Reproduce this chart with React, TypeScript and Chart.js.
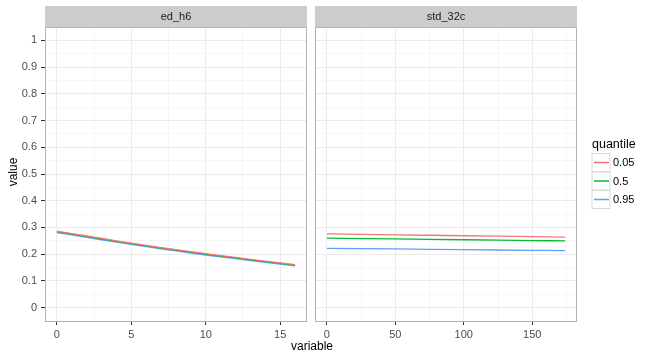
import React, { useEffect, useRef } from "react";
import { Chart, registerables } from "chart.js";

Chart.register(...registerables);

// ---- data ----
const seriesNames = ["0.05", "0.5", "0.95"];
const seriesColors = ["#F8766D", "#00BA38", "#619CFF"];

const panelNames = ["ed_h6", "std_32c"];

// panel 1: ed_h6
const edX = [0, 2, 4, 6, 8, 10, 12, 14, 16];
const edQ05 = [0.286, 0.268, 0.25, 0.233, 0.217, 0.202, 0.188, 0.174, 0.161];
const edQ50 = [0.284, 0.266, 0.248, 0.231, 0.215, 0.2, 0.186, 0.172, 0.159];
const edQ95 = [0.281, 0.263, 0.245, 0.228, 0.212, 0.197, 0.183, 0.169, 0.156];

// panel 2: std_32c
const stdX = [0, 50, 100, 150, 174];
const stdQ05 = [0.276, 0.2725, 0.269, 0.2655, 0.264];
const stdQ50 = [0.26, 0.257, 0.254, 0.251, 0.2495];
const stdQ95 = [0.222, 0.2195, 0.217, 0.2145, 0.2135];

// ticks
const yMajor = [0, 0.1, 0.2, 0.3, 0.4, 0.5, 0.6, 0.7, 0.8, 0.9, 1];
const yMinor = [0.05, 0.15, 0.25, 0.35, 0.45, 0.55, 0.65, 0.75, 0.85, 0.95];
const edXMajor = [0, 5, 10, 15];
const edXMinor = [2.5, 7.5, 12.5];
const stdXMajor = [0, 50, 100, 150];
const stdXMinor = [25, 75, 125, 175];

const FONT = "'Liberation Sans', Arial, Helvetica, sans-serif";

const isIn = (arr: number[], v: number) => arr.some((a) => Math.abs(a - v) < 1e-9);

function makeXScale(major: number[], minor: number[], min: number, max: number) {
  const all = [...major, ...minor].sort((a, b) => a - b);
  return {
    type: "linear" as const,
    min,
    max,
    afterBuildTicks: (axis: any) => {
      axis.ticks = all.map((v) => ({ value: v }));
    },
    afterFit: (axis: any) => {
      axis.height = 39;
    },
    border: { display: false },
    grid: {
      color: (ctx: any) => (isIn(major, ctx.tick?.value) ? "#ebebeb" : "#f6f6f6"),
      tickColor: (ctx: any) => (isIn(major, ctx.tick?.value) ? "#333333" : "rgba(0,0,0,0)"),
      tickLength: 4,
      lineWidth: 1,
    },
    ticks: {
      autoSkip: false,
      maxRotation: 0,
      minRotation: 0,
      padding: 3,
      color: "#4d4d4d",
      font: { family: FONT, size: 11 },
      callback: (v: any) => (isIn(major, Number(v)) ? String(v) : ""),
    },
  };
}

function makeYScale(showLabels: boolean) {
  const all = [...yMajor, ...yMinor].sort((a, b) => a - b);
  return {
    type: "linear" as const,
    min: -0.05,
    max: 1.05,
    afterBuildTicks: (axis: any) => {
      axis.ticks = all.map((v) => ({ value: v }));
    },
    afterFit: (axis: any) => {
      axis.width = showLabels ? 45 : 0;
    },
    border: { display: false },
    grid: {
      color: (ctx: any) => (isIn(yMajor, ctx.tick?.value) ? "#ebebeb" : "#f6f6f6"),
      tickColor: (ctx: any) =>
        showLabels && isIn(yMajor, ctx.tick?.value) ? "#333333" : "rgba(0,0,0,0)",
      tickLength: showLabels ? 4 : 0,
      drawTicks: showLabels,
      lineWidth: 1,
    },
    ticks: {
      display: showLabels,
      autoSkip: false,
      padding: 4,
      color: "#4d4d4d",
      font: { family: FONT, size: 11 },
      callback: (v: any) => (isIn(yMajor, Number(v)) ? String(v) : ""),
    },
  };
}

function panelPlugin(title: string) {
  return {
    id: "panelDeco",
    afterDraw(chart: any) {
      const { ctx, chartArea } = chart;
      const { left, right, top, bottom } = chartArea;
      ctx.save();
      // strip
      ctx.fillStyle = "#cccccc";
      ctx.fillRect(left, 6, right - left, top - 6);
      ctx.fillStyle = "#1a1a1a";
      ctx.font = `11px ${FONT}`;
      ctx.textAlign = "center";
      ctx.textBaseline = "middle";
      ctx.fillText(title, (left + right) / 2, (6 + top) / 2 + 0.5);
      // panel border
      ctx.strokeStyle = "#b3b3b3";
      ctx.lineWidth = 1;
      ctx.strokeRect(left + 0.5, top + 0.5, right - left - 1, bottom - top);
      ctx.restore();
    },
  };
}

const overlayPlugin = {
  id: "overlayText",
  afterDraw(chart: any) {
    const ctx = chart.ctx;
    ctx.save();
    ctx.fillStyle = "#000000";
    ctx.font = `12px ${FONT}`;
    ctx.textAlign = "center";
    ctx.textBaseline = "middle";
    // x title
    ctx.fillText("variable", 312, 347);
    // y title
    ctx.save();
    ctx.translate(14, 172);
    ctx.rotate(-Math.PI / 2);
    ctx.fillText("value", 0, 0);
    ctx.restore();
    // legend
    ctx.textAlign = "left";
    ctx.textBaseline = "alphabetic";
    ctx.font = `12.5px ${FONT}`;
    ctx.fillText("quantile", 592, 148);
    ctx.font = `11px ${FONT}`;
    ctx.textBaseline = "middle";
    seriesNames.forEach((name, i) => {
      const y0 = 153.5 + i * 18.5;
      ctx.fillStyle = "#ffffff";
      ctx.fillRect(592, y0, 18, 18);
      ctx.strokeStyle = "#d9d9d9";
      ctx.lineWidth = 1;
      ctx.strokeRect(592, y0, 18, 18);
      ctx.strokeStyle = seriesColors[i];
      ctx.lineWidth = 1.5;
      ctx.beginPath();
      ctx.moveTo(594, y0 + 9);
      ctx.lineTo(609, y0 + 9);
      ctx.stroke();
      ctx.fillStyle = "#000000";
      ctx.fillText(name, 613, y0 + 9.5);
    });
    ctx.restore();
  },
};

function ds(xs: number[], ys: number[], i: number) {
  return {
    label: seriesNames[i],
    data: xs.map((x, k) => ({ x, y: ys[k] })),
    borderColor: seriesColors[i],
    backgroundColor: seriesColors[i],
    borderWidth: 1.3,
    pointRadius: 0,
    tension: 0.3,
    fill: false,
  };
}

export default function App() {
  const ref1 = useRef<HTMLCanvasElement>(null);
  const ref2 = useRef<HTMLCanvasElement>(null);

  useEffect(() => {
    const common = {
      responsive: false,
      animation: false as const,
      devicePixelRatio: 1,
      plugins: { legend: { display: false }, tooltip: { enabled: false } },
    };
    const c1 = new Chart(ref1.current!, {
      type: "line",
      data: {
        datasets: [ds(edX, edQ05, 0), ds(edX, edQ50, 1), ds(edX, edQ95, 2)],
      },
      options: {
        ...common,
        layout: { padding: { left: 0, top: 27, right: 353, bottom: 0 } },
        scales: {
          x: makeXScale(edXMajor, edXMinor, -0.8, 16.8),
          y: makeYScale(true),
        },
      } as any,
      plugins: [panelPlugin(panelNames[0])],
    });
    const c2 = new Chart(ref2.current!, {
      type: "line",
      data: {
        datasets: [ds(stdX, stdQ05, 0), ds(stdX, stdQ50, 1), ds(stdX, stdQ95, 2)],
      },
      options: {
        ...common,
        layout: { padding: { left: 315, top: 27, right: 83, bottom: 0 } },
        scales: {
          x: makeXScale(stdXMajor, stdXMinor, -8.7, 182.7),
          y: makeYScale(false),
        },
      } as any,
      plugins: [panelPlugin(panelNames[1]), overlayPlugin],
    });
    return () => {
      c1.destroy();
      c2.destroy();
    };
  }, []);

  const cs: React.CSSProperties = { position: "absolute", left: 0, top: 0 };
  return (
    <div style={{ position: "fixed", left: 0, top: 0, width: 660, height: 360, background: "#ffffff" }}>
      <canvas ref={ref1} width={660} height={360} style={cs} />
      <canvas ref={ref2} width={660} height={360} style={cs} />
    </div>
  );
}
